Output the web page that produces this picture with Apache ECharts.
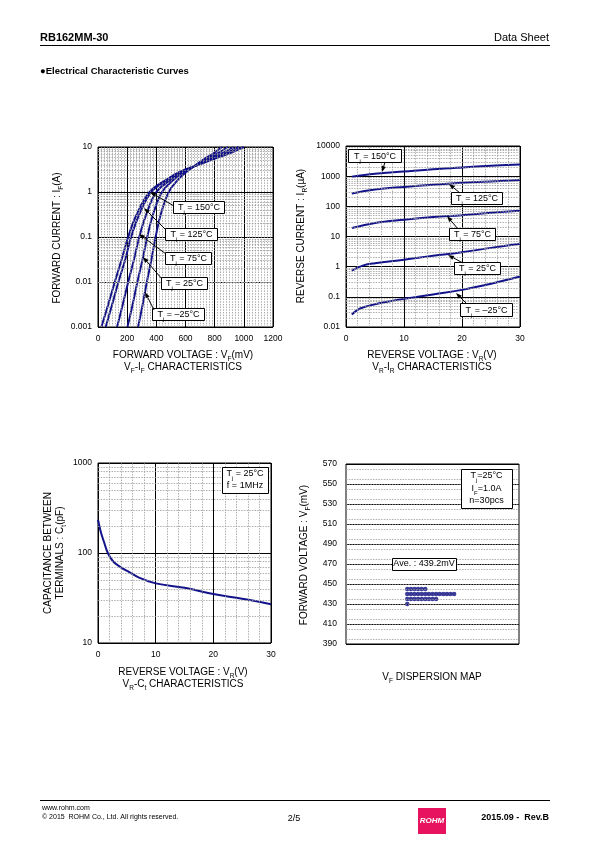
<!DOCTYPE html>
<html><head><meta charset="utf-8">
<script src="https://cdn.jsdelivr.net/npm/echarts@6/dist/echarts.min.js"></script>
<style>html,body{margin:0;padding:0;background:#fff}#c{width:595px;height:842px}</style>
</head><body><div id="c"></div>
<script>
// ---------- DATA ----------
// VF-IF characteristics: [VF (mV), IF (A)]
const vfTemps = ['150', '125', '75', '25', '-25'];
const vfIf150 = [[23,0.001],[68,0.003],[115,0.01],[160,0.03],[207,0.1],[262,0.3],[354,1],[470,1.9],[560,2.8],[670,3.8],[780,5.2],[890,7],[1000,10]];
const vfIf125 = [[53,0.001],[95,0.003],[140,0.01],[185,0.03],[227,0.1],[280,0.3],[365,1],[480,1.9],[565,2.8],[668,3.8],[765,5.2],[865,7],[965,10]];
const vfIf75  = [[131,0.001],[168,0.003],[207,0.01],[245,0.03],[283,0.1],[328,0.3],[400,1],[500,1.9],[575,2.8],[666,3.8],[750,5.2],[840,7],[930,10]];
const vfIf25  = [[202,0.001],[236,0.003],[270,0.01],[304,0.03],[338,0.1],[375,0.3],[439,1],[520,1.9],[588,2.8],[664,3.8],[735,5.2],[812,7],[890,10]];
const vfIfM25 = [[275,0.001],[305,0.003],[335,0.01],[365,0.03],[395,0.1],[428,0.3],[485,1],[550,1.9],[605,2.8],[662,3.8],[720,5.2],[785,7],[850,10]];
const vfXTicks = [0, 200, 400, 600, 800, 1000, 1200];
const ifYTickLabels = ['0.001', '0.01', '0.1', '1', '10'];

// VR-IR characteristics: [VR (V), IR (uA)]
const irT150 = [[1,950],[5,1200],[10,1430],[15,1700],[20,1950],[25,2200],[30,2450]];
const irT125 = [[1,265],[5,360],[10,440],[15,520],[20,600],[25,670],[30,740]];
const irT75  = [[1,19],[5,28],[10,36],[15,44],[20,51],[25,61],[30,72]];
const irT25  = [[1,0.74],[3,1.1],[5,1.3],[10,1.7],[15,2.3],[20,3.0],[25,4.2],[30,5.7]];
const irTM25 = [[1,0.026],[2,0.037],[3,0.045],[5,0.057],[10,0.086],[15,0.12],[20,0.17],[25,0.27],[30,0.47]];
const vrXTicks = [0, 10, 20, 30];
const irYTickLabels = ['0.01', '0.1', '1', '10', '100', '1000', '10000'];

// VR-Ct characteristics: [VR (V), Ct (pF)]
const ctData = [[0,234],[0.5,170],[1,135],[1.7,100],[2.6,81],[3.7,71],[5.5,61],[7.2,53],[10,46],[15,41],[20,35],[25,31],[30,27]];
const ctYTickLabels = ['10', '100', '1000'];

// VF dispersion map: 30 measured samples (mV)
const vfSamples = [445,445,445,445,445,445,
  440,440,440,440,440,440,440,440,440,440,440,440,440,440,
  435,435,435,435,435,435,435,435,435,
  430];
const vfAverage = '439.2';

// ---------- HELPERS ----------
const FONT = "'Liberation Sans', Arial, sans-serif";
const NAVY = '#12128a';
const MINOR = {color: '#9a9a9a', width: 0.8, type: [1.5, 1.2]};

function logMinors(lo, hi) {
  const out = [];
  for (let e = lo; e < hi; e++) for (let m = 2; m <= 9; m++) out.push(m * Math.pow(10, e));
  return out;
}
function linMinors(min, max, step, major) {
  const out = [];
  for (let v = min + step; v < max - 1e-9; v += step) {
    const r = Math.round(v * 1000) / 1000;
    if (Math.abs(r / major - Math.round(r / major)) > 1e-6) out.push(r);
  }
  return out;
}
function minorSeries(idx, xs, ys, anchor) {
  const data = [];
  xs.forEach(v => data.push({xAxis: v}));
  ys.forEach(v => data.push({yAxis: v}));
  return {
    type: 'line', xAxisIndex: idx, yAxisIndex: idx, data: [anchor], symbol: 'none',
    lineStyle: {opacity: 0}, silent: true, z: 1, animation: false,
    markLine: {silent: true, symbol: 'none', label: {show: false}, lineStyle: MINOR, animation: false, data: data}
  };
}
function curve(idx, data) {
  return {type: 'line', xAxisIndex: idx, yAxisIndex: idx, data: data, smooth: 0.4, symbol: 'none',
    lineStyle: {color: NAVY, width: 2}, z: 3, animation: false, silent: true};
}
function logLabel(labels, lo) {
  return v => { const i = Math.round(Math.log10(v)) - lo; return labels[i] !== undefined ? labels[i] : ''; };
}
const LBL = {color: '#000', fontSize: 8.5, fontFamily: FONT};
const axisBase = {
  axisLine: {show: false}, axisTick: {show: false},
  splitLine: {show: true, lineStyle: {color: '#000', width: 1}}
};

const grids = [
  {left: 98, top: 147, width: 175, height: 180},
  {left: 346, top: 146, width: 174, height: 181},
  {left: 98, top: 463, width: 173, height: 180},
  {left: 346, top: 464, width: 173, height: 180}
].map(g => Object.assign({show: true, borderColor: '#000', borderWidth: 1, backgroundColor: 'transparent', containLabel: false}, g));

const xAxes = [
  Object.assign({}, axisBase, {gridIndex: 0, type: 'value', min: 0, max: 1200, interval: 200,
    axisLabel: Object.assign({}, LBL, {margin: 7, formatter: v => String(v)})}),
  Object.assign({}, axisBase, {gridIndex: 1, type: 'value', min: 0, max: 30, interval: 10,
    axisLabel: Object.assign({}, LBL, {margin: 7, formatter: v => String(v)})}),
  Object.assign({}, axisBase, {gridIndex: 2, type: 'value', min: 0, max: 30, interval: 10,
    axisLabel: Object.assign({}, LBL, {margin: 7, formatter: v => String(v)})}),
  {gridIndex: 3, type: 'value', min: -17, max: 31, show: false, splitLine: {show: false}}
];
const yAxes = [
  Object.assign({}, axisBase, {gridIndex: 0, type: 'log', logBase: 10, min: 0.001, max: 10,
    axisLabel: Object.assign({}, LBL, {margin: 6, formatter: logLabel(ifYTickLabels, -3)})}),
  Object.assign({}, axisBase, {gridIndex: 1, type: 'log', logBase: 10, min: 0.01, max: 10000,
    axisLabel: Object.assign({}, LBL, {margin: 6, formatter: logLabel(irYTickLabels, -2)})}),
  Object.assign({}, axisBase, {gridIndex: 2, type: 'log', logBase: 10, min: 10, max: 1000,
    axisLabel: Object.assign({}, LBL, {margin: 6, formatter: logLabel(ctYTickLabels, 1)})}),
  Object.assign({}, axisBase, {gridIndex: 3, type: 'value', min: 390, max: 570, interval: 20,
    axisLabel: Object.assign({}, LBL, {margin: 9, formatter: v => String(v)})})
];

const counts = {};
const dispData = vfSamples.map(v => { counts[v] = (counts[v] || 0); const k = counts[v]++; return [k, v]; });

const series = [
  minorSeries(0, linMinors(0, 1200, 20, 200), logMinors(-3, 1), [0, 10]),
  minorSeries(1, linMinors(0, 30, 2, 10), logMinors(-2, 4), [0, 10000]),
  minorSeries(2, linMinors(0, 30, 2, 10), logMinors(1, 3), [0, 1000]),
  minorSeries(3, [], linMinors(390, 570, 5, 20), [-17, 570]),
  curve(0, vfIf150), curve(0, vfIf125), curve(0, vfIf75), curve(0, vfIf25), curve(0, vfIfM25),
  curve(1, irT150), curve(1, irT125), curve(1, irT75), curve(1, irT25), curve(1, irTM25),
  curve(2, ctData),
  {type: 'scatter', xAxisIndex: 3, yAxisIndex: 3, data: dispData, symbol: 'circle', symbolSize: 4.5,
   itemStyle: {color: '#0c0c80'}, z: 3, animation: false, silent: true}
];

// ---------- GRAPHICS ----------
function txt(x, y, text, opts) {
  opts = opts || {};
  const s = opts.size || 10;
  return {type: 'text', x: x, y: y, rotation: opts.rot || 0, z: 20, silent: true,
    style: {text: text, fill: '#000', font: (opts.weight || 'normal') + ' ' + s + 'px ' + FONT,
      align: opts.align || 'center', verticalAlign: 'middle',
      rich: {s: {fontSize: s * 0.65, fontFamily: FONT, fill: '#000', verticalAlign: 'bottom', padding: [0, 0, -3, 0]},
             n: {fontSize: s, fontFamily: FONT, fill: '#000'}}}};
}
function box(x1, y1, x2, y2) {
  return {type: 'rect', shape: {x: x1 + 0.5, y: y1 + 0.5, width: x2 - x1, height: y2 - y1}, z: 15, silent: true,
    style: {fill: '#fff', stroke: '#000', lineWidth: 1}};
}
function arrow(x1, y1, x2, y2) {
  const a = Math.atan2(y2 - y1, x2 - x1), L = 6, W = 2.2;
  const bx = x2 - L * Math.cos(a), by = y2 - L * Math.sin(a);
  return [
    {type: 'line', shape: {x1: x1, y1: y1, x2: bx, y2: by}, z: 16, silent: true, style: {stroke: '#000', lineWidth: 1}},
    {type: 'polygon', shape: {points: [[x2, y2], [bx - W * Math.sin(a), by + W * Math.cos(a)], [bx + W * Math.sin(a), by - W * Math.cos(a)]]}, z: 16, silent: true, style: {fill: '#000'}}
  ];
}
function tjBox(x1, y1, x2, y2, label) {
  return [box(x1, y1, x2, y2), txt((x1 + x2) / 2 + 0.5, (y1 + y2) / 2 + 1, '{n|T}{s|j}{n| = ' + label + '}', {size: 9})];
}

const g = [];
g.push(txt(40, 38, 'RB162MM-30', {align: 'left', weight: 'bold', size: 11}));
g.push(txt(549, 38, 'Data Sheet', {align: 'right', size: 11}));
g.push({type: 'line', shape: {x1: 40, y1: 45.5, x2: 550, y2: 45.5}, style: {stroke: '#000', lineWidth: 1}, silent: true});
g.push(txt(40, 71, '●Electrical Characteristic Curves', {align: 'left', weight: 'bold', size: 9.5}));
g.push({type: 'line', shape: {x1: 40, y1: 800.5, x2: 550, y2: 800.5}, style: {stroke: '#000', lineWidth: 1}, silent: true});
g.push(txt(42, 808, 'www.rohm.com', {align: 'left', size: 7}));
g.push(txt(42, 817, '© 2015  ROHM Co., Ltd. All rights reserved.', {align: 'left', size: 7}));
g.push(txt(294, 819, '2/5', {size: 9}));
g.push({type: 'rect', shape: {x: 418, y: 808, width: 28, height: 26}, style: {fill: '#e8135e'}, silent: true});
g.push({type: 'text', x: 432, y: 821, silent: true, style: {text: 'ROHM', fill: '#fff', font: 'italic bold 8px ' + FONT, align: 'center', verticalAlign: 'middle'}});
g.push(txt(549, 818, '2015.09 -  Rev.B', {align: 'right', weight: 'bold', size: 9}));

g.push(txt(183, 355, '{n|FORWARD VOLTAGE : V}{s|F}{n|(mV)}'));
g.push(txt(183, 367, '{n|V}{s|F}{n|-I}{s|F}{n| CHARACTERISTICS}'));
g.push(txt(57, 238, '{n|FORWARD CURRENT : I}{s|F}{n|(A)}', {rot: Math.PI / 2}));
g.push(txt(432, 355, '{n|REVERSE VOLTAGE : V}{s|R}{n|(V)}'));
g.push(txt(432, 367, '{n|V}{s|R}{n|-I}{s|R}{n| CHARACTERISTICS}'));
g.push(txt(301, 236, '{n|REVERSE CURRENT : I}{s|R}{n|(µA)}', {rot: Math.PI / 2}));
g.push(txt(183, 672, '{n|REVERSE VOLTAGE : V}{s|R}{n|(V)}'));
g.push(txt(183, 684, '{n|V}{s|R}{n|-C}{s|t}{n| CHARACTERISTICS}'));
g.push(txt(48, 553, 'CAPACITANCE BETWEEN', {rot: Math.PI / 2}));
g.push(txt(60, 553, '{n|TERMINALS : C}{s|t}{n|(pF)}', {rot: Math.PI / 2}));
g.push(txt(432, 677, '{n|V}{s|F}{n| DISPERSION MAP}'));
g.push(txt(304, 555, '{n|FORWARD VOLTAGE : V}{s|F}{n|(mV)}', {rot: Math.PI / 2}));

g.push(...tjBox(173, 201, 224, 213, '150°C'), ...arrow(174, 206, 150, 192));
g.push(...tjBox(165, 228, 217, 240, '125°C'), ...arrow(166, 230, 144, 208));
g.push(...tjBox(165, 252, 211, 264, '75°C'), ...arrow(166, 254, 139, 234));
g.push(...tjBox(161, 277, 207, 289, '25°C'), ...arrow(162, 279, 143, 257));
g.push(...tjBox(152, 308, 204, 320, '–25°C'), ...arrow(154, 310, 145, 292));
g.push(...tjBox(348, 149, 401, 162, '150°C'), ...arrow(385, 162, 382, 172));
g.push(...tjBox(451, 192, 502, 204, '125°C'), ...arrow(460, 193, 449, 184));
g.push(...tjBox(449, 228, 495, 240, '75°C'), ...arrow(458, 229, 447, 216));
g.push(...tjBox(454, 262, 500, 274, '25°C'), ...arrow(463, 263, 448, 255));
g.push(...tjBox(460, 303, 512, 316, '–25°C'), ...arrow(467, 304, 456, 293));
g.push(box(222, 467, 268, 493));
g.push(txt(245, 474, '{n|T}{s|j}{n| = 25°C}', {size: 9}));
g.push(txt(245, 486, 'f = 1MHz', {size: 9}));
g.push(box(461, 469, 512, 508));
g.push(txt(486.5, 476, '{n|T}{s|j}{n|=25°C}', {size: 9}));
g.push(txt(486.5, 488.5, '{n|I}{s|F}{n|=1.0A}', {size: 9}));
g.push(txt(486.5, 501, 'n=30pcs', {size: 9}));
g.push(box(392, 558, 456, 570));
g.push(txt(424, 564, 'Ave. : ' + vfAverage + 'mV', {size: 9}));

const chart = echarts.init(document.getElementById('c'), null, {renderer: 'canvas'});
chart.setOption({
  animation: false, backgroundColor: '#fff',
  grid: grids, xAxis: xAxes, yAxis: yAxes, series: series, graphic: {elements: g}
});
</script>
</body></html>
